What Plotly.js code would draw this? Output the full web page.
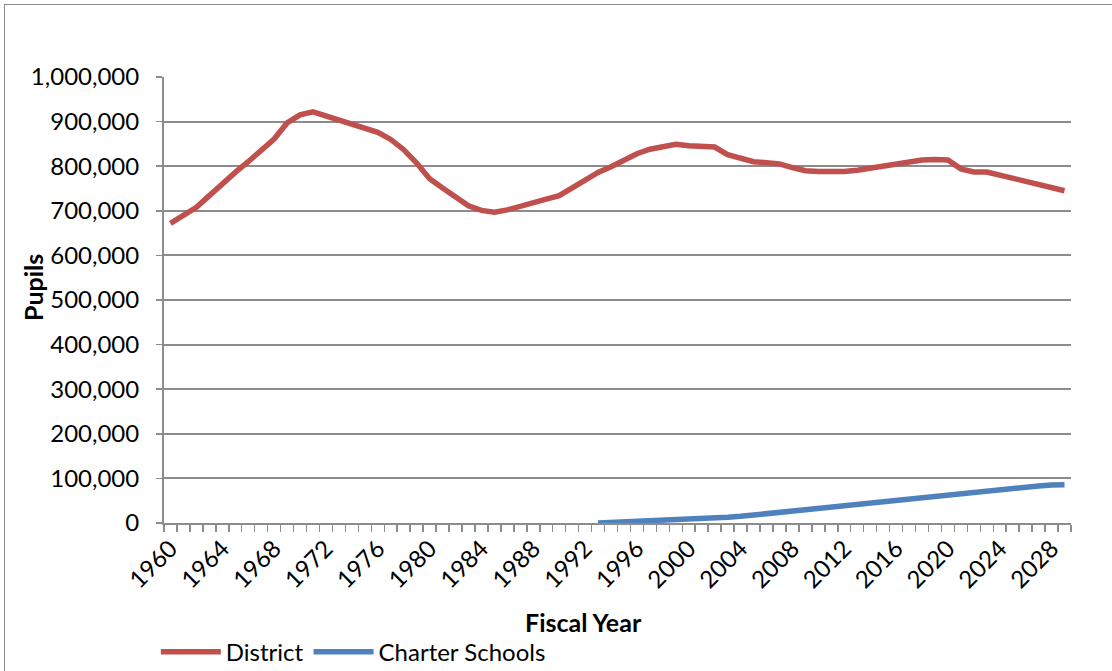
<!DOCTYPE html>
<html>
<head>
<meta charset="utf-8">
<script src="https://cdn.plot.ly/plotly-3.0.1.min.js"></script>
<style>
html,body{margin:0;padding:0;background:#fff;overflow:hidden;}
#wrap{position:relative;width:1112px;height:671px;overflow:hidden;}
#frame{position:absolute;left:4px;top:4px;width:1200px;height:800px;border:1px solid #8c8c8c;pointer-events:none;}
#chart{position:absolute;left:0;top:0;width:1112px;height:671px;}
</style>
</head>
<body>
<div id="wrap"><div id="chart"></div><div id="frame"></div></div>
<script>
var years = [];
for (var y = 1960; y <= 2029; y++) years.push(y);

var district = [
  672000, 689000, 708000, 734000, 762000, 786000, 810000, 834000, 861000, 897000,
  915000, 922000, 913000, 902000, 893000, 885000, 876000, 860000, 837000, 807000,
  772000, 751000, 730000, 711000, 701000, 697000, 702000, 711000, 719000, 726000,
  734000, 751000, 768000, 786000, 799000, 813000, 828000, 838000, 844000, 849000,
  846000, 846000, 843000, 826000, 817000, 810000, 808000, 805000, 797000, 790000,
  788000, 787000, 788000, 791000, 796000, 800000, 805000, 811000, 814000, 815000,
  814000, 794000, 787000, 787000, 780000, 773000, 765000, 758000, 751000, 745000
];

var charterYears = [];
for (var c = 1993; c <= 2029; c++) charterYears.push(c);
var charter = [
  0, 1000, 2000, 3000, 4000, 5000, 7000, 9000, 11000, 12000,
  13000, 15000, 18000, 21000, 25000, 29000, 32000, 34000, 36000, 39000,
  42000, 45000, 49000, 52000, 56000, 59000, 62000, 65000, 67000, 69000,
  71000, 74000, 77000, 80000, 83000, 85000, 86000
];

var xTickVals = [1960,1964,1968,1972,1976,1980,1984,1988,1992,1996,2000,2004,2008,2012,2016,2020,2024,2028];
var xTickText = xTickVals.map(String);

var FONT = "Lato, 'Open Sans', sans-serif";

var traces = [
  {x: years, y: district, type: 'scatter', mode: 'lines', name: 'District',
   line: {color: '#C0504D', width: 5.5}},
  {x: charterYears, y: charter, type: 'scatter', mode: 'lines', name: 'Charter Schools',
   line: {color: '#4F81BD', width: 5.5}}
];

var layout = {
  width: 1112, height: 671,
  margin: {l: 164, r: 41, t: 77, b: 148},
  paper_bgcolor: 'rgba(0,0,0,0)', plot_bgcolor: '#fff',
  font: {family: FONT, size: 23, color: '#000'},
  showlegend: true,
  legend: {orientation: 'h', xref: 'paper', x: -0.009, xanchor: 'left',
           yref: 'container', y: 0.028, yanchor: 'middle',
           itemwidth: 60,
           font: {family: FONT, size: 24, color: '#000'}, traceorder: 'normal'},
  xaxis: {
    range: [1959.5, 2029.5], tickmode: 'array', tickvals: xTickVals, ticktext: xTickText,
    tickangle: -45, ticks: '', showgrid: false, zeroline: false, automargin: false,
    showline: true, linecolor: '#8c8c8c', linewidth: 2,
    tickfont: {family: FONT, size: 24, color: '#000'},
    minor: {ticks: 'outside', tick0: 1959.5, dtick: 1, ticklen: 7, tickcolor: '#8c8c8c', tickwidth: 1.5, showgrid: false}
  },
  yaxis: {
    range: [0, 1000000], dtick: 100000, tick0: 0, tickformat: ',d', automargin: false,
    showgrid: true, gridcolor: '#8c8c8c', gridwidth: 2, zeroline: false,
    showline: true, linecolor: '#8c8c8c', linewidth: 2,
    ticks: 'outside', ticklen: 6, tickcolor: '#8c8c8c', tickwidth: 1.5, ticklabelstandoff: 12,
    tickfont: {family: FONT, size: 24, color: '#000'}
  },
  annotations: [
    {text: '<b>Pupils</b>', textangle: -90, xref: 'paper', yref: 'paper',
     x: -0.1444, y: 0.527, xanchor: 'center', yanchor: 'middle', showarrow: false,
     font: {family: FONT, size: 25, color: '#000'}},
    {text: '<b>Fiscal Year</b>', xref: 'paper', yref: 'paper',
     x: 0.462, y: -0.222, xanchor: 'center', yanchor: 'middle', showarrow: false,
     font: {family: FONT, size: 25, color: '#000'}}
  ]
};

Plotly.newPlot('chart', traces, layout, {displayModeBar: false, staticPlot: true});
</script>
</body>
</html>
